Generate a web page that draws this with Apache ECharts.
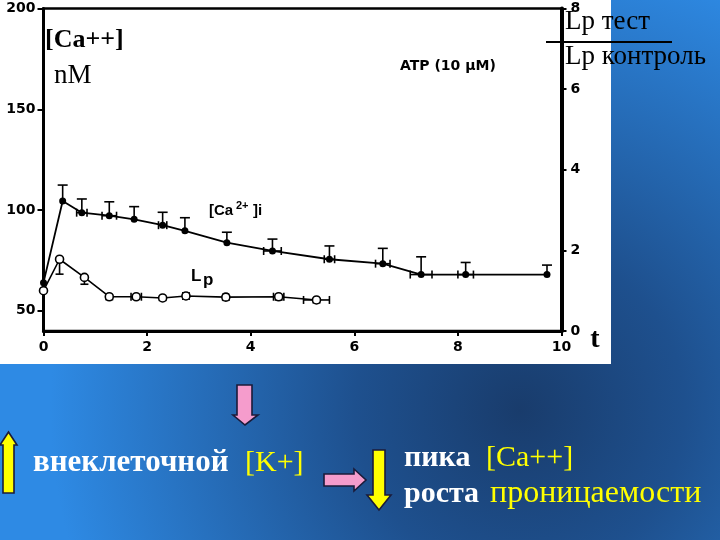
<!DOCTYPE html>
<html><head><meta charset="utf-8">
<script src="https://cdn.jsdelivr.net/npm/echarts@6/dist/echarts.min.js"></script>
<style>html,body{margin:0;padding:0;background:#2a78d0}#c{width:720px;height:540px}</style>
</head><body><div id="c"></div>
<script>
// [Ca2+]i (nM), left axis
const caTime   = [0, 0.37, 0.74, 1.27, 1.75, 2.30, 2.73, 3.54, 4.42, 5.52, 6.55, 7.29, 8.15, 9.72];
const caValue  = [64, 104.5, 98.7, 97.2, 95.4, 92.5, 89.7, 83.8, 79.7, 75.6, 73.4, 68, 68, 68];
const caErrTop = [64, 112.4, 105.5, 104.1, 101.7, 98.9, 96.2, 89, 85.6, 82.2, 81, 76.8, 74, 72.7];
const caXErr   = [0, 0, 0.1, 0.14, 0, 0.08, 0, 0, 0.17, 0.1, 0.14, 0.21, 0.15, 0];
// Lp test / Lp control, right axis
const lpTime   = [0, 0.31, 0.79, 1.27, 1.79, 2.30, 2.75, 3.52, 4.54, 5.27];
const lpValue  = [1.0, 1.78, 1.33, 0.85, 0.85, 0.82, 0.87, 0.84, 0.85, 0.77];
const lpErrLow = [1.0, 1.41, 1.16, 0.78, 0.79, 0.76, 0.80, 0.77, 0.77, 0.70];
const lpXErr   = [0, 0, 0, 0, 0.1, 0, 0.06, 0.05, 0.1, 0.25];
// axis ticks
const xTicks = {min: 0, max: 10, interval: 2};
const leftTicks = [50, 100, 150, 200];
const rightTicks = {min: 0, max: 8, interval: 2};

const caLine = caTime.map((t, i) => [t, caValue[i]]);
const caErr = caTime.map((t, i) => [t, caValue[i], caErrTop[i], caXErr[i]]);
const lpLine = lpTime.map((t, i) => [t, lpValue[i]]);
const lpErr = lpTime.map((t, i) => [t, lpValue[i], lpErrLow[i], lpXErr[i]]);

function errorBars(capHalf) {
  return function (params, api) {
    const t = api.value(0), v = api.value(1), e = api.value(2), dx = api.value(3);
    const p = api.coord([t, v]);
    const style = {stroke: '#000', lineWidth: 1.6};
    const ch = [];
    if (e !== v) {
      const q = api.coord([t, e]);
      ch.push({type: 'line', shape: {x1: p[0], y1: p[1], x2: q[0], y2: q[1]}, style});
      ch.push({type: 'line', shape: {x1: q[0] - capHalf, y1: q[1], x2: q[0] + capHalf, y2: q[1]}, style});
    }
    if (dx > 0) {
      const a = api.coord([t - dx, v]), b = api.coord([t + dx, v]);
      ch.push({type: 'line', shape: {x1: a[0], y1: a[1], x2: b[0], y2: b[1]}, style});
      ch.push({type: 'line', shape: {x1: a[0], y1: a[1] - 4, x2: a[0], y2: a[1] + 4}, style});
      ch.push({type: 'line', shape: {x1: b[0], y1: b[1] - 4, x2: b[0], y2: b[1] + 4}, style});
    }
    return {type: 'group', children: ch};
  };
}

const axisFont = {color: '#000', fontFamily: 'DejaVu Sans', fontWeight: 'bold', fontSize: 14};
const arrowStroke = {stroke: '#1b1b3a', lineWidth: 1.6};
const pink = '#f59ccc', yellow = '#ffff00';
function txt(x, y, s, font, fill) {
  return {type: 'text', z: 50, x: x, y: y, style: {text: s, font: font, fill: fill, verticalAlign: 'middle'}};
}

const chart = echarts.init(document.getElementById('c'), null, {renderer: 'canvas'});
chart.setOption({
  animation: false,
  grid: {left: 43.5, right: 158.5, top: 8.5, bottom: 209, show: true, borderColor: '#000', borderWidth: 2.5, backgroundColor: 'transparent'},
  xAxis: {
    type: 'value', min: xTicks.min, max: xTicks.max, interval: xTicks.interval,
    axisLine: {onZero: false, lineStyle: {color: '#000', width: 3}},
    axisTick: {length: 5, lineStyle: {color: '#000', width: 2}},
    axisLabel: Object.assign({margin: 9}, axisFont),
    splitLine: {show: false}
  },
  yAxis: [{
    type: 'value', min: 40, max: 200, position: 'left',
    axisLine: {show: true, onZero: false, lineStyle: {color: '#000', width: 3}},
    axisTick: {show: true, length: 6, customValues: leftTicks, lineStyle: {color: '#000', width: 2}},
    axisLabel: Object.assign({margin: 8, customValues: leftTicks}, axisFont),
    splitLine: {show: false}
  }, {
    type: 'value', min: rightTicks.min, max: rightTicks.max, interval: rightTicks.interval, position: 'right',
    axisLine: {show: true, onZero: false, lineStyle: {color: '#000', width: 4}},
    axisTick: {show: true, length: 5, lineStyle: {color: '#000', width: 2}},
    axisLabel: Object.assign({margin: 9}, axisFont),
    splitLine: {show: false}
  }],
  series: [
    {type: 'custom', name: 'caErr', xAxisIndex: 0, yAxisIndex: 0, renderItem: errorBars(5), data: caErr, encode: {x: 0, y: 1}, z: 3, clip: false},
    {type: 'line', name: '[Ca2+]i', xAxisIndex: 0, yAxisIndex: 0, data: caLine, symbol: 'circle', symbolSize: 7,
      lineStyle: {color: '#000', width: 1.8}, itemStyle: {color: '#000', borderWidth: 0}, z: 4},
    {type: 'custom', name: 'lpErr', xAxisIndex: 0, yAxisIndex: 1, renderItem: errorBars(4), data: lpErr, encode: {x: 0, y: 1}, z: 3, clip: false},
    {type: 'line', name: 'Lp', xAxisIndex: 0, yAxisIndex: 1, data: lpLine, symbol: 'circle', symbolSize: 8,
      lineStyle: {color: '#000', width: 1.6}, itemStyle: {color: '#fff', borderColor: '#000', borderWidth: 1.6}, z: 5}
  ],
  graphic: [
    {type: 'rect', z: -100, shape: {x: 0, y: 0, width: 720, height: 540},
      style: {fill: {type: 'radial', x: 520, y: 410, r: 470, global: true,
        colorStops: [{offset: 0, color: '#193c6c'}, {offset: 0.35, color: '#1e508e'}, {offset: 1, color: '#2e8ae4'}]}}},
    {type: 'rect', z: -50, shape: {x: 0, y: 0, width: 611, height: 364}, style: {fill: '#ffffff'}},
    // chart annotations
    txt(45, 40, '[Ca++]', 'bold 26px "Liberation Serif"', '#000'),
    txt(54, 76, 'nM', '27px "Liberation Serif"', '#000'),
    txt(400, 66, 'ATP (10 μM)', 'bold 14px "DejaVu Sans"', '#000'),
    txt(209, 211, '[Ca', 'bold 15px "Liberation Sans"', '#000'),
    txt(236, 206, '2+', 'bold 11px "Liberation Sans"', '#000'),
    txt(253, 211, ']i', 'bold 15px "Liberation Sans"', '#000'),
    txt(191, 276, 'L', 'bold 17px "Liberation Sans"', '#000'),
    txt(203, 280, 'p', 'bold 17px "Liberation Sans"', '#000'),
    txt(565, 22, 'Lp тест', '27px "Liberation Serif"', '#000'),
    {type: 'line', z: 50, shape: {x1: 546, y1: 42, x2: 672, y2: 42}, style: {stroke: '#000', lineWidth: 2}},
    txt(565, 57, 'Lp контроль', '27px "Liberation Serif"', '#000'),
    {type: 'text', z: 50, x: 595, y: 340, style: {text: 't', font: 'bold 28px "Liberation Serif"', fill: '#000', verticalAlign: 'middle', align: 'center'}},
    // bottom texts
    txt(33, 463, 'внеклеточной', 'bold 31px "Liberation Serif"', '#ffffff'),
    txt(245, 463, '[K+]', '30px "Liberation Serif"', yellow),
    txt(404, 458, 'пика', 'bold 30px "Liberation Serif"', '#ffffff'),
    txt(486, 458, '[Ca++]', '30px "Liberation Serif"', yellow),
    txt(404, 494, 'роста', 'bold 30px "Liberation Serif"', '#ffffff'),
    txt(490, 494, 'проницаемости', '32px "Liberation Serif"', yellow),
    // arrows
    {type: 'polygon', z: 40, shape: {points: [[237, 385], [252, 385], [252, 415], [258, 415], [245, 425], [233, 415], [237, 415]]},
      style: Object.assign({fill: pink}, arrowStroke)},
    {type: 'polygon', z: 40, shape: {points: [[8.5, 432], [17, 445], [14, 445], [14, 493], [3, 493], [3, 445], [0, 445]]},
      style: Object.assign({fill: yellow}, arrowStroke)},
    {type: 'polygon', z: 40, shape: {points: [[324, 474], [354, 474], [354, 469], [366, 480], [354, 491], [354, 486], [324, 486]]},
      style: Object.assign({fill: pink}, arrowStroke)},
    {type: 'polygon', z: 40, shape: {points: [[373, 450], [385, 450], [385, 495], [391, 495], [379, 510], [367, 495], [373, 495]]},
      style: Object.assign({fill: yellow}, arrowStroke)}
  ]
});
</script>
</body></html>
